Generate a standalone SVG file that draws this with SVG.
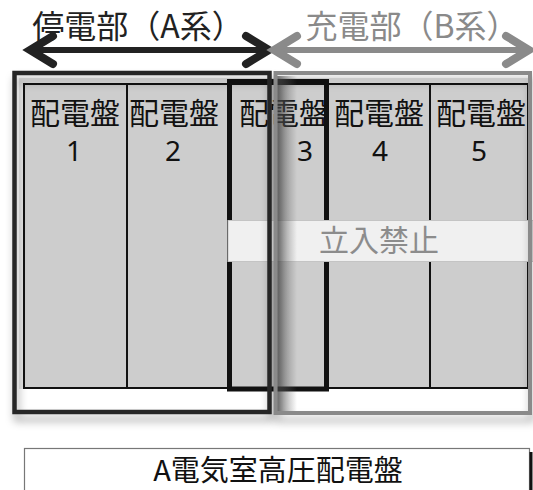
<svg xmlns="http://www.w3.org/2000/svg" width="533" height="490" viewBox="0 0 533 490">
<style>
.jp{font-family:"Noto Sans CJK JP","Noto Sans",sans-serif;}
.panel{fill:#cdcdcd;stroke:#111;stroke-width:2;}
.ptxt{font-size:30px;fill:#111;text-anchor:middle;}
.num{font-size:28px;fill:#111;text-anchor:middle;font-family:"Noto Sans","DejaVu Sans",sans-serif;}
.title{font-size:32px;text-anchor:middle;}
.arrA{stroke:#222;fill:none;}
.arrB{stroke:#8a8a8a;fill:none;}
.shaft{stroke-width:6;}
.head{stroke-width:8;stroke-linecap:round;stroke-linejoin:miter;}
</style>
<defs>
<filter id="sh" x="-10%" y="-10%" width="120%" height="130%">
<feDropShadow dx="2" dy="7" stdDeviation="4" flood-color="#000" flood-opacity="0.35"/>
</filter>
<linearGradient id="edge" x1="0" y1="0" x2="1" y2="0">
<stop offset="0" stop-color="#555" stop-opacity="0.75"/>
<stop offset="1" stop-color="#666" stop-opacity="0"/>
</linearGradient>
</defs>
<rect width="533" height="490" fill="#fff"/>

<g id="title-a"><text class="jp title" x="138" y="38" fill="#222">停電部（A系）</text></g>
<g id="title-b"><text class="jp title" x="412" y="38" fill="#8a8a8a">充電部（B系）</text></g>

<g id="connectors">
<g class="arrA">
<line class="shaft" x1="32" y1="50" x2="266" y2="50"/>
<polyline class="head" points="53,36 30,50 53,64"/>
<polyline class="head" points="246,36 269,50 246,64"/>
</g>
<g class="arrB">
<line class="shaft" x1="277" y1="50" x2="527" y2="50"/>
<polyline class="head" points="297,36 274,50 297,64"/>
<polyline class="head" points="506,36 529,50 506,64"/>
</g>
</g>

<g id="panels">
<rect x="19" y="78" width="512" height="314" fill="#e6e6e6"/>
<g id="panel-1"><rect class="panel" x="24" y="84" width="103" height="304"/></g>
<g id="panel-2"><rect class="panel" x="127" y="84" width="102" height="304"/></g>
<g id="panel-3"><rect class="panel" x="229" y="84" width="98" height="304"/></g>
<g id="panel-4"><rect class="panel" x="327" y="84" width="103" height="304"/></g>
<g id="panel-5"><rect class="panel" x="430" y="84" width="98" height="304"/></g>
<rect x="19" y="389" width="512" height="22" fill="#fff"/>
</g>

<g id="panel-3-highlight"><rect x="229.5" y="81.5" width="97" height="307.5" fill="none" stroke="#111" stroke-width="5"/></g>

<g id="panel-labels" class="jp">
<text class="ptxt" x="75" y="124">配電盤</text>
<text class="num" x="74" y="161">1</text>
<text class="ptxt" x="174" y="124">配電盤</text>
<text class="num" x="173" y="161">2</text>
<text class="ptxt" x="284" y="124">配電盤</text>
<text class="num" x="305" y="161">3</text>
<text class="ptxt" x="379" y="124">配電盤</text>
<text class="num" x="380" y="161">4</text>
<text class="ptxt" x="481" y="124">配電盤</text>
<text class="num" x="479" y="161">5</text>
</g>

<g id="no-entry">
<rect x="228" y="220.5" width="305" height="41" fill="#f0f0f0" stroke="#c4c4c4" stroke-width="1"/>
<text class="jp" x="379" y="251" font-size="30" fill="#8c8c8c" text-anchor="middle">立入禁止</text>
</g>

<rect x="277" y="76" width="20" height="336" fill="url(#edge)"/>

<g id="box-a"><rect x="14.5" y="73" width="255" height="339" fill="none" stroke="#262626" stroke-width="4.5" filter="url(#sh)"/></g>
<g id="box-b"><rect x="275.5" y="73" width="254.5" height="340" fill="none" stroke="#8a8a8a" stroke-width="4" filter="url(#sh)"/></g>

<g id="label">
<rect x="24.5" y="448.5" width="505" height="45" fill="#fff" stroke="#777" stroke-width="1.2"/>
<line x1="531" y1="452" x2="531" y2="490" stroke="#111" stroke-width="3"/>
<text class="jp" x="278" y="481" font-size="29" fill="#111" text-anchor="middle">A電気室高圧配電盤</text>
</g>
</svg>
